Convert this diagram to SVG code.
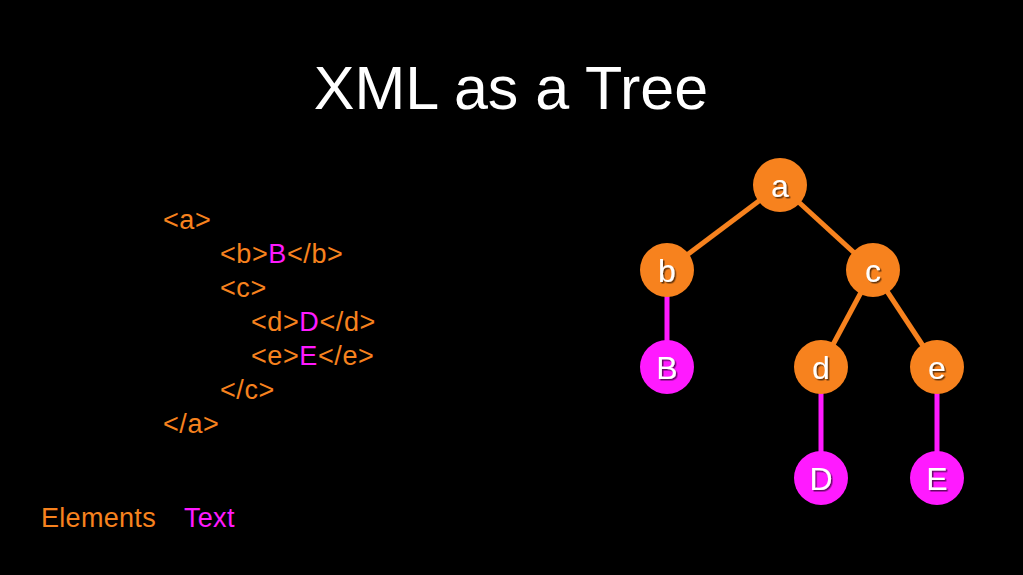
<svg xmlns="http://www.w3.org/2000/svg" width="1023" height="575" viewBox="0 0 1023 575">
<style>
text{font-family:"Liberation Sans",Arial,Helvetica,sans-serif}
.title{font-size:61px;fill:#fff}
.code{font-size:27px;fill:#F7821E;letter-spacing:0.6px}
.t{fill:#FF1AFF}
.el{fill:#F7821E}
.tx{fill:#FF1AFF}
.lbl{font-size:32px;fill:#fff;text-anchor:middle;filter:url(#sh)}
.ce{stroke:#F7821E;stroke-width:5;fill:none}
.ct{stroke:#FF1AFF;stroke-width:5;fill:none}
.leg{font-size:27px;letter-spacing:0.3px}
</style>
<defs>
<filter id="sh" x="-30%" y="-30%" width="160%" height="160%">
<feDropShadow dx="1.5" dy="1.5" stdDeviation="0.6" flood-color="#000" flood-opacity="0.6"/>
</filter>
</defs>
<rect width="1023" height="575" fill="#000"/>
<text class="title" x="511" y="109" text-anchor="middle">XML as a Tree</text>
<g id="code" class="code">
<text x="163" y="229">&lt;a&gt;</text>
<text x="220" y="263">&lt;b&gt;<tspan class="t">B</tspan>&lt;/b&gt;</text>
<text x="220" y="297">&lt;c&gt;</text>
<text x="251" y="331">&lt;d&gt;<tspan class="t">D</tspan>&lt;/d&gt;</text>
<text x="251" y="365">&lt;e&gt;<tspan class="t">E</tspan>&lt;/e&gt;</text>
<text x="220" y="399">&lt;/c&gt;</text>
<text x="163" y="433">&lt;/a&gt;</text>
</g>
<g id="connectors">
<line class="ce" x1="780" y1="185" x2="667" y2="270"/>
<line class="ce" x1="780" y1="185" x2="873" y2="270"/>
<line class="ce" x1="873" y1="270" x2="821" y2="367"/>
<line class="ce" x1="873" y1="270" x2="937" y2="367"/>
<line class="ct" x1="667" y1="270" x2="667" y2="367"/>
<line class="ct" x1="821" y1="367" x2="821" y2="478"/>
<line class="ct" x1="937" y1="367" x2="937" y2="478"/>
</g>
<g id="node-a"><circle class="el" cx="780" cy="185" r="27"/><text class="lbl" x="780" y="197">a</text></g>
<g id="node-b"><circle class="el" cx="667" cy="270" r="27"/><text class="lbl" x="667" y="282">b</text></g>
<g id="node-c"><circle class="el" cx="873" cy="270" r="27"/><text class="lbl" x="873" y="282">c</text></g>
<g id="node-B"><circle class="tx" cx="667" cy="367" r="27"/><text class="lbl" x="667" y="379">B</text></g>
<g id="node-d"><circle class="el" cx="821" cy="367" r="27"/><text class="lbl" x="821" y="379">d</text></g>
<g id="node-e"><circle class="el" cx="937" cy="367" r="27"/><text class="lbl" x="937" y="379">e</text></g>
<g id="node-D"><circle class="tx" cx="821" cy="478" r="27"/><text class="lbl" x="821" y="490">D</text></g>
<g id="node-E"><circle class="tx" cx="937" cy="478" r="27"/><text class="lbl" x="937" y="490">E</text></g>
<g id="legend" class="leg">
<text x="41" y="527" class="el">Elements</text>
<text x="184" y="527" class="tx">Text</text>
</g>
</svg>
